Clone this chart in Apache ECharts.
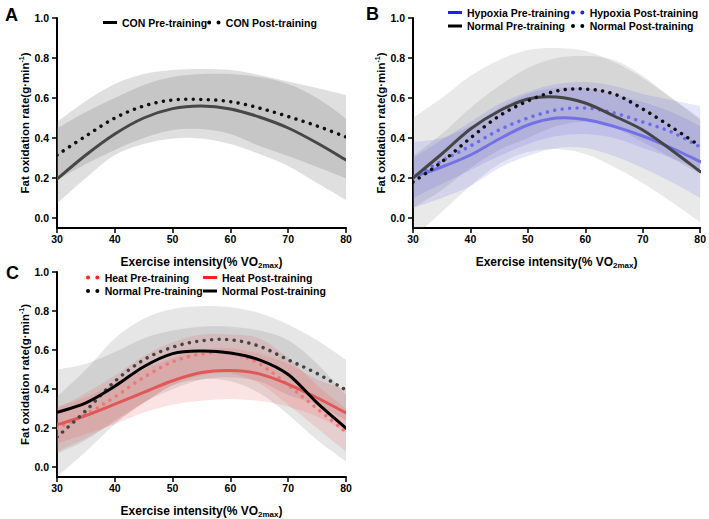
<!DOCTYPE html>
<html lang="en">
<head>
<meta charset="UTF-8">
<title>Fat oxidation rate</title>
<script src="https://cdn.jsdelivr.net/npm/echarts@6/dist/echarts.min.js"></script>
<style>
    html, body { margin: 0; padding: 0; background: #fff; }
    #chart { width: 709px; height: 519px; }
</style>
</head>
<body>
<div id="chart"></div>
<script>
    // exercise intensity (% VO2max) where curves are sampled
    var intensity = [30, 35, 40, 45, 50, 55, 60, 65, 70, 75, 80];
    var yTicks = [0, 0.2, 0.4, 0.6, 0.8, 1.0];

    // A: CON
    var conPre      = [0.195, 0.315, 0.42, 0.50, 0.547, 0.56, 0.545, 0.505, 0.45, 0.375, 0.29];
    var conPost     = [0.315, 0.41, 0.50, 0.56, 0.59, 0.593, 0.582, 0.55, 0.507, 0.46, 0.405];
    var conPreLow   = [0.073, 0.2, 0.315, 0.37, 0.398, 0.398, 0.37, 0.32, 0.26, 0.175, 0.09];
    var conPreHigh  = [0.448, 0.53, 0.6, 0.665, 0.705, 0.72, 0.72, 0.705, 0.67, 0.6, 0.498];
    var conPostLow  = [0.19, 0.27, 0.34, 0.40, 0.44, 0.445, 0.42, 0.36, 0.31, 0.255, 0.198];
    var conPostHigh = [0.48, 0.585, 0.67, 0.72, 0.74, 0.745, 0.74, 0.715, 0.682, 0.65, 0.615];

    // B: hypoxia vs normal
    var hypPre        = [0.205, 0.255, 0.315, 0.395, 0.465, 0.5, 0.493, 0.458, 0.41, 0.35, 0.282];
    var hypPost       = [0.2, 0.285, 0.36, 0.44, 0.50, 0.54, 0.55, 0.525, 0.48, 0.43, 0.355];
    var normPreB      = [0.2, 0.32, 0.445, 0.535, 0.595, 0.605, 0.575, 0.51, 0.44, 0.34, 0.232];
    var normPostB     = [0.18, 0.28, 0.40, 0.51, 0.585, 0.635, 0.645, 0.62, 0.545, 0.455, 0.36];
    var normPreBLow   = [-0.1, 0.03, 0.16, 0.27, 0.33, 0.345, 0.32, 0.255, 0.175, 0.08, -0.02];
    var normPreBHigh  = [0.5, 0.6, 0.71, 0.79, 0.84, 0.85, 0.835, 0.78, 0.7, 0.6, 0.49];
    var normPostBLow  = [0.05, 0.14, 0.25, 0.34, 0.4, 0.46, 0.48, 0.45, 0.38, 0.3, 0.22];
    var normPostBHigh = [0.31, 0.42, 0.55, 0.66, 0.75, 0.8, 0.81, 0.79, 0.71, 0.6, 0.5];
    var hypPreLow     = [0.05, 0.1, 0.16, 0.25, 0.31, 0.35, 0.35, 0.31, 0.25, 0.18, 0.1];
    var hypPreHigh    = [0.38, 0.4, 0.46, 0.55, 0.62, 0.65, 0.65, 0.62, 0.58, 0.53, 0.46];
    var hypPostLow    = [0.1, 0.17, 0.24, 0.31, 0.37, 0.41, 0.42, 0.4, 0.35, 0.3, 0.24];
    var hypPostHigh   = [0.3, 0.39, 0.48, 0.57, 0.63, 0.67, 0.68, 0.66, 0.62, 0.59, 0.56];

    // C: heat vs normal
    var heatPre       = [0.2, 0.27, 0.36, 0.46, 0.54, 0.58, 0.585, 0.53, 0.42, 0.3, 0.18];
    var heatPost      = [0.217, 0.265, 0.323, 0.383, 0.443, 0.485, 0.495, 0.478, 0.425, 0.356, 0.278];
    var normPreC      = [0.155, 0.29, 0.44, 0.55, 0.615, 0.648, 0.653, 0.62, 0.55, 0.48, 0.395];
    var normPostC     = [0.281, 0.33, 0.415, 0.515, 0.582, 0.595, 0.585, 0.55, 0.475, 0.33, 0.2];
    var normPreCLow   = [-0.05, 0.08, 0.22, 0.33, 0.4, 0.45, 0.46, 0.44, 0.37, 0.32, 0.24];
    var normPreCHigh  = [0.36, 0.5, 0.66, 0.76, 0.81, 0.825, 0.82, 0.79, 0.73, 0.65, 0.55];
    var normPostCLow  = [0.07, 0.14, 0.24, 0.33, 0.42, 0.45, 0.44, 0.38, 0.27, 0.14, 0.03];
    var normPostCHigh = [0.5, 0.53, 0.59, 0.66, 0.7, 0.72, 0.72, 0.7, 0.65, 0.53, 0.37];
    var heatPreLow    = [0.08, 0.15, 0.23, 0.33, 0.42, 0.47, 0.48, 0.43, 0.32, 0.2, 0.08];
    var heatPreHigh   = [0.3, 0.38, 0.47, 0.57, 0.64, 0.68, 0.68, 0.66, 0.56, 0.42, 0.3];
    var heatPostLow   = [0.12, 0.17, 0.22, 0.28, 0.32, 0.34, 0.35, 0.34, 0.31, 0.26, 0.18];
    var heatPostHigh  = [0.31, 0.36, 0.43, 0.5, 0.56, 0.6, 0.61, 0.58, 0.53, 0.45, 0.4];

    var FONT = '"Liberation Sans", Arial, sans-serif';
    var GRAY_A = 'rgba(120,120,120,0.24)';
    var GRAY_B = 'rgba(120,120,120,0.16)';
    var BLUE = 'rgba(80,80,235,0.14)';
    var GRAY_C = 'rgba(120,120,120,0.19)';
    var PINK = 'rgba(235,80,80,0.16)';
    var solidIcon = 'path://M0,0H14V3H0Z';
    var dotIcon = 'path://M0,1.5A1.5,1.5,0,1,0,3,1.5A1.5,1.5,0,1,0,0,1.5ZM7,1.5A1.5,1.5,0,1,0,10,1.5A1.5,1.5,0,1,0,7,1.5Z';

    function pairs(ys) {
        var out = [];
        for (var i = 0; i < intensity.length; i++) out.push([intensity[i], ys[i]]);
        return out;
    }

    // catmull-rom through pixel points, as bezier path commands
    function spline(p) {
        var s = '';
        for (var i = 0; i < p.length - 1; i++) {
            var p0 = p[Math.max(i - 1, 0)], p1 = p[i], p2 = p[i + 1], p3 = p[Math.min(i + 2, p.length - 1)];
            s += 'C' + (p1[0] + (p2[0] - p0[0]) / 6) + ',' + (p1[1] + (p2[1] - p0[1]) / 6) + ','
                + (p2[0] - (p3[0] - p1[0]) / 6) + ',' + (p2[1] - (p3[1] - p1[1]) / 6) + ','
                + p2[0] + ',' + p2[1];
        }
        return s;
    }

    // shaded band between low and high, one path drawn on the first item
    function band(idx, low, high, color) {
        var rows = [];
        for (var i = 0; i < intensity.length; i++) rows.push([intensity[i], low[i], high[i]]);
        return {
            type: 'custom', xAxisIndex: idx, yAxisIndex: idx, clip: true, silent: true, z: 1,
            data: rows, encode: {x: 0, y: [1, 2]},
            renderItem: function (params, api) {
                if (params.dataIndex !== 0) return null;
                var up = [], dn = [];
                for (var i = 0; i < rows.length; i++) {
                    up.push(api.coord([rows[i][0], rows[i][2]]));
                    dn.push(api.coord([rows[i][0], rows[i][1]]));
                }
                dn.reverse();
                var d = 'M' + up[0][0] + ',' + up[0][1] + spline(up)
                    + 'L' + dn[0][0] + ',' + dn[0][1] + spline(dn) + 'Z';
                return {type: 'path', shape: {pathData: d}, style: {fill: color, stroke: 'none'}};
            }
        };
    }

    // fitted curve, solid or dotted
    function curve(idx, name, ys, color, dotted, width) {
        var rows = pairs(ys);
        return {
            type: 'custom', name: name, xAxisIndex: idx, yAxisIndex: idx, clip: true, silent: true, z: 3,
            data: rows, encode: {x: 0, y: 1}, itemStyle: {color: color},
            renderItem: function (params, api) {
                if (params.dataIndex !== 0) return null;
                var pts = rows.map(function (r) { return api.coord(r); });
                var d = 'M' + pts[0][0] + ',' + pts[0][1] + spline(pts);
                return {
                    type: 'path', shape: {pathData: d},
                    style: {
                        fill: 'none', stroke: color, lineWidth: width, lineCap: 'round',
                        lineDash: dotted ? [0.01, 7.5] : null
                    }
                };
            }
        };
    }

    function xAxis(idx) {
        return {
            type: 'value', gridIndex: idx, min: 30, max: 80, interval: 10,
            name: '{a|Exercise intensity(% VO}{s|2max}{a|)}',
            nameLocation: 'middle', nameGap: 27,
            nameTextStyle: {
                rich: {
                    a: {fontSize: 12, fontWeight: 'bold', fontFamily: FONT, color: '#000', lineHeight: 14},
                    s: {fontSize: 8, fontWeight: 'bold', fontFamily: FONT, color: '#000', lineHeight: 8, verticalAlign: 'bottom'}
                }
            },
            splitLine: {show: false},
            axisLine: {onZero: false, lineStyle: {color: '#000', width: 2}},
            axisTick: {length: 5, lineStyle: {color: '#000', width: 1.5}},
            axisLabel: {fontSize: 10.5, fontWeight: 'bold', fontFamily: FONT, color: '#000', margin: 5}
        };
    }

    function yAxis(idx) {
        return {
            type: 'value', gridIndex: idx, min: -0.05, max: 1.0,
            name: '{a|Fat oxidation rate(g·min}{p|-1}{a|)}',
            nameLocation: 'middle', nameRotate: 90, nameGap: 19,
            nameTextStyle: {
                rich: {
                    a: {fontSize: 11.5, fontWeight: 'bold', fontFamily: FONT, color: '#000', lineHeight: 14},
                    p: {fontSize: 7, fontWeight: 'bold', fontFamily: FONT, color: '#000', lineHeight: 7, verticalAlign: 'top'}
                }
            },
            splitLine: {show: false},
            axisLine: {onZero: false, lineStyle: {color: '#000', width: 2}},
            axisTick: {length: 5, customValues: yTicks, lineStyle: {color: '#000', width: 1.5}},
            axisLabel: {
                customValues: yTicks, margin: 8,
                fontSize: 10.5, fontWeight: 'bold', fontFamily: FONT, color: '#000',
                formatter: function (v) { return v.toFixed(1); }
            }
        };
    }

    function legend(left, top, orient, items) {
        return {
            left: left, top: top, orient: orient, itemWidth: 14, itemHeight: 4,
            itemGap: orient === 'vertical' ? 2.5 : 0, selectedMode: false, padding: 0,
            textStyle: {fontSize: 10.5, fontWeight: 'bold', fontFamily: FONT, color: '#000'},
            data: items.map(function (it) {
                return {name: it[0], icon: it[1] ? dotIcon : solidIcon, itemStyle: {color: it[2], borderWidth: 0}};
            })
        };
    }

    function panelLetter(text, left, top) {
        return {
            text: text, left: left, top: top, padding: 0,
            textStyle: {fontSize: 18, fontWeight: 'bold', fontFamily: FONT, color: '#000'}
        };
    }

    var series = [
        band(0, conPreLow, conPreHigh, GRAY_A),
        band(0, conPostLow, conPostHigh, GRAY_A),
        curve(0, 'CON Pre-training', conPre, '#474747', false, 3),
        curve(0, 'CON Post-training', conPost, '#111', true, 3.5),

        band(1, normPreBLow, normPreBHigh, GRAY_B),
        band(1, normPostBLow, normPostBHigh, GRAY_B),
        band(1, hypPreLow, hypPreHigh, BLUE),
        band(1, hypPostLow, hypPostHigh, BLUE),
        curve(1, 'Hypoxia Pre-training', hypPre, '#7272e6', false, 3),
        curve(1, 'Hypoxia Post-training', hypPost, '#6b6bee', true, 3.5),
        curve(1, 'Normal Pre-training', normPreB, '#454545', false, 3),
        curve(1, 'Normal Post-training', normPostB, '#111', true, 3.5),

        band(2, normPreCLow, normPreCHigh, GRAY_C),
        band(2, normPostCLow, normPostCHigh, GRAY_C),
        band(2, heatPreLow, heatPreHigh, PINK),
        band(2, heatPostLow, heatPostHigh, PINK),
        curve(2, 'Heat Pre-training', heatPre, '#ef7878', true, 3.5),
        curve(2, 'Heat Post-training', heatPost, '#e05858', false, 3),
        curve(2, 'Normal Pre-training ', normPreC, '#444', true, 3.5),
        curve(2, 'Normal Post-training ', normPostC, '#000', false, 3)
    ];

    var chart = echarts.init(document.getElementById('chart'), null, {renderer: 'svg'});
    chart.setOption({
        backgroundColor: '#fff',
        animation: false,
        title: [panelLetter('A', 5, 6), panelLetter('B', 366, 5), panelLetter('C', 6, 264)],
        legend: [
            legend(103, 17, 'horizontal', [['CON Pre-training', false, '#000'], ['CON Post-training', true, '#000']]),
            legend(448, 7, 'vertical', [['Hypoxia Pre-training', false, '#2020ff'], ['Normal Pre-training', false, '#000']]),
            legend(571, 7, 'vertical', [['Hypoxia Post-training', true, '#2020ff'], ['Normal Post-training', true, '#000']]),
            legend(86, 272, 'vertical', [['Heat Pre-training', true, '#ff2020'], ['Normal Pre-training ', true, '#000']]),
            legend(203, 272, 'vertical', [['Heat Post-training', false, '#ff2020'], ['Normal Post-training ', false, '#000']])
        ],
        grid: [
            {left: 57, top: 18, width: 289, height: 210},
            {left: 413, top: 18, width: 289, height: 210},
            {left: 57, top: 272, width: 289, height: 209}
        ],
        xAxis: [xAxis(0), xAxis(1), xAxis(2)],
        yAxis: [yAxis(0), yAxis(1), yAxis(2)],
        series: series
    });
</script>
</body>
</html>
